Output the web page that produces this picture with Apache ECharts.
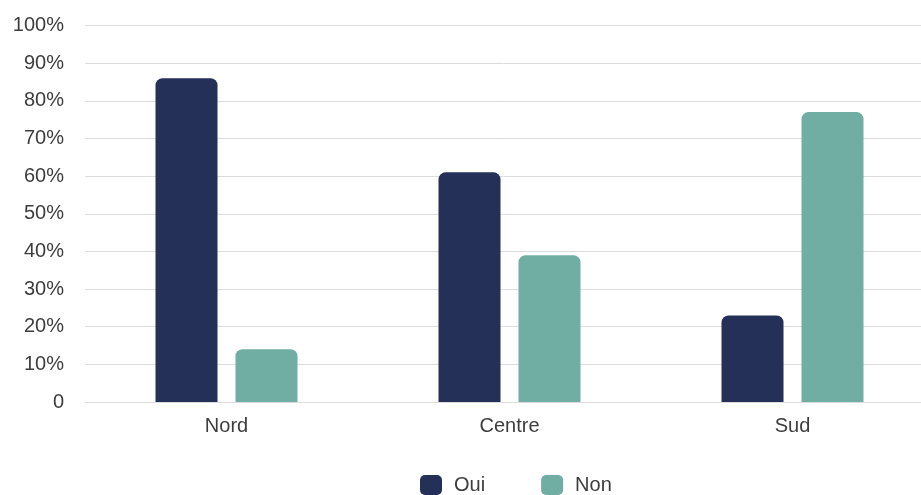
<!DOCTYPE html>
<html><head><meta charset="utf-8">
<script src="https://cdn.jsdelivr.net/npm/echarts@6/dist/echarts.min.js"></script>
<style>html,body{margin:0;padding:0;background:#fff}#c{width:921px;height:495px}</style>
</head><body><div id="c"></div>
<script>
const categories = ['Nord', 'Centre', 'Sud'];
const seriesNames = ['Oui', 'Non'];
const ouiValues = [86, 61, 23];
const nonValues = [14, 39, 77];
const yTicks = [0, 10, 20, 30, 40, 50, 60, 70, 80, 90, 100];

const chart = echarts.init(document.getElementById('c'), null, {renderer: 'canvas'});
const font = '"Liberation Sans", Arial, sans-serif';
chart.setOption({
  animation: false,
  grid: {left: 85, width: 849, top: 25.5, bottom: 93, containLabel: false, outerBoundsMode: 'none'},
  legend: {
    data: seriesNames, top: 475, left: 420, padding: 0,
    itemWidth: 22, itemHeight: 20, itemGap: 56, icon: 'roundRect',
    textStyle: {fontFamily: font, fontSize: 20, color: '#3d3d3d', padding: [7,0,0,7]}
  },
  xAxis: {
    type: 'category', data: categories,
    axisLine: {show: true, lineStyle: {color: '#dcdcdc', width: 1}},
    axisTick: {show: false},
    axisLabel: {fontFamily: font, fontSize: 20, color: '#3d3d3d', margin: 14}
  },
  yAxis: {
    type: 'value', min: 0, max: 100, interval: 10,
    axisLine: {show: false}, axisTick: {show: false},
    splitLine: {lineStyle: {color: '#dcdcdc', width: 1}},
    axisLabel: {fontFamily: font, fontSize: 20, color: '#3d3d3d', margin: 21,
      formatter: v => v === 0 ? '0' : v + '%'}
  },
  series: [
    {name: 'Oui', type: 'bar', data: ouiValues, barWidth: 62, barGap: '29%',
     itemStyle: {color: '#243058', borderRadius: [7,7,0,0]}},
    {name: 'Non', type: 'bar', data: nonValues, barWidth: 62,
     itemStyle: {color: '#70AEA3', borderRadius: [7,7,0,0]}}
  ]
});
</script></body></html>
